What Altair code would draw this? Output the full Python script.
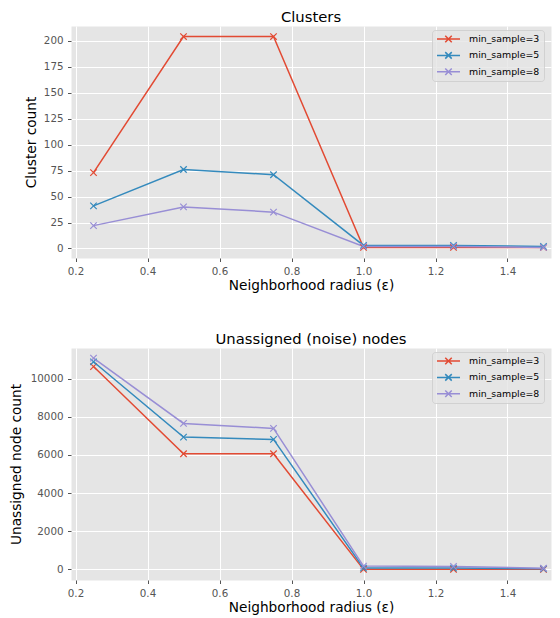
import altair as alt
import pandas as pd

# ---- data ----
eps = [0.25, 0.5, 0.75, 1.0, 1.25, 1.5]
series = ["min_sample=3", "min_sample=5", "min_sample=8"]

clusters_3 = [73, 204, 204, 1, 1, 1]
clusters_5 = [41, 76, 71, 3, 3, 2]
clusters_8 = [22, 40, 35, 2, 2, 1]

noise_3 = [10630, 6060, 6060, 5, 5, 5]
noise_5 = [10880, 6935, 6815, 70, 70, 35]
noise_8 = [11070, 7650, 7390, 175, 160, 65]

x_ticks = [0.2, 0.4, 0.6, 0.8, 1.0, 1.2, 1.4]
cluster_ticks = [0, 25, 50, 75, 100, 125, 150, 175, 200]
noise_ticks = [0, 2000, 4000, 6000, 8000, 10000]

colors = ["#E24A33", "#348ABD", "#988ED5"]

X_PATH = "M-1,-1L1,1M-1,1L1,-1"
LEG_PATH = "M-1,0L1,0M-0.283,-0.283L0.283,0.283M-0.283,0.283L0.283,-0.283"
FONT = "DejaVu Sans"
PLOT_W = 480


def long_df(a, b, c):
    rows = []
    for name, vals in zip(series, [a, b, c]):
        for e, v in zip(eps, vals):
            rows.append({"eps": e, "series": name, "value": v})
    return pd.DataFrame(rows)


def panel(df, title, ytitle, ydomain, yticks, ytitle_x, yformat):
    x = alt.X(
        "eps:Q",
        scale=alt.Scale(domain=[0.1875, 0.1875 + PLOT_W / 360.0], nice=False, zero=False),
        axis=alt.Axis(values=x_ticks, format=".1f", title="Neighborhood radius (ε)",
                      titleY=31.3, titleBaseline="alphabetic"),
    )
    y = alt.Y(
        "value:Q",
        scale=alt.Scale(domain=ydomain, nice=False, zero=False),
        axis=alt.Axis(values=yticks, format=yformat, title=ytitle,
                      titleX=ytitle_x, titleBaseline="alphabetic"),
    )
    color = alt.Color(
        "series:N",
        scale=alt.Scale(domain=series, range=colors),
        legend=alt.Legend(
            title=None, orient="none", legendX=361, legendY=4,
            symbolType=LEG_PATH, symbolSize=529, symbolStrokeWidth=1.5,
            symbolOpacity=1, labelFontSize=9.4, labelColor="#000000",
            labelFont=FONT, labelOffset=8, padding=4, rowPadding=6.4,
            clipHeight=10,
            fillColor="rgba(229,229,229,0.8)", strokeColor="rgba(204,204,204,0.8)",
            cornerRadius=3, labelLimit=300,
        ),
    )
    base = alt.Chart(df)
    lines = base.mark_line(strokeWidth=1.5).encode(x=x, y=y, color=color)
    pts = base.mark_point(shape=X_PATH, filled=False, size=42, strokeWidth=1.2,
                          opacity=1).encode(x=x, y=y, color=color)
    return alt.layer(lines, pts).properties(
        width=PLOT_W, height=232,
        title=alt.TitleParams(title, fontSize=14.8, font=FONT, fontWeight="normal",
                              color="#000000", anchor="middle", frame="group",
                              offset=-10.5, baseline="alphabetic"),
    )


top = panel(long_df(clusters_3, clusters_5, clusters_8), "Clusters", "Cluster count",
            [-9.15, 214.15], cluster_ticks, -35.5, "d")
bottom = panel(long_df(noise_3, noise_5, noise_8), "Unassigned (noise) nodes",
               "Unassigned node count", [-552.5, 11602.5], noise_ticks, -51, "d")

chart = (
    alt.vconcat(top, bottom, spacing=38)
    .resolve_scale(x="independent", y="independent", color="independent")
    .resolve_legend(color="independent")
    .properties(padding={"top": 1, "left": 0, "right": 0, "bottom": 0}, background="white")
    .configure(font=FONT)
    .configure_view(fill="#E5E5E5", stroke="transparent")
    .configure_axis(
        labelFont=FONT, labelFontSize=10.3, labelColor="#555555",
        titleFont=FONT, titleFontSize=13.7, titleColor="#000000", titleFontWeight="normal",
        tickColor="#555555", tickSize=3.5, tickWidth=1, labelPadding=4.5,
        domain=False, grid=True, gridColor="#FFFFFF", gridWidth=1,
    )
)

chart.save("out.html", embed_options={"renderer": "svg", "actions": False})
